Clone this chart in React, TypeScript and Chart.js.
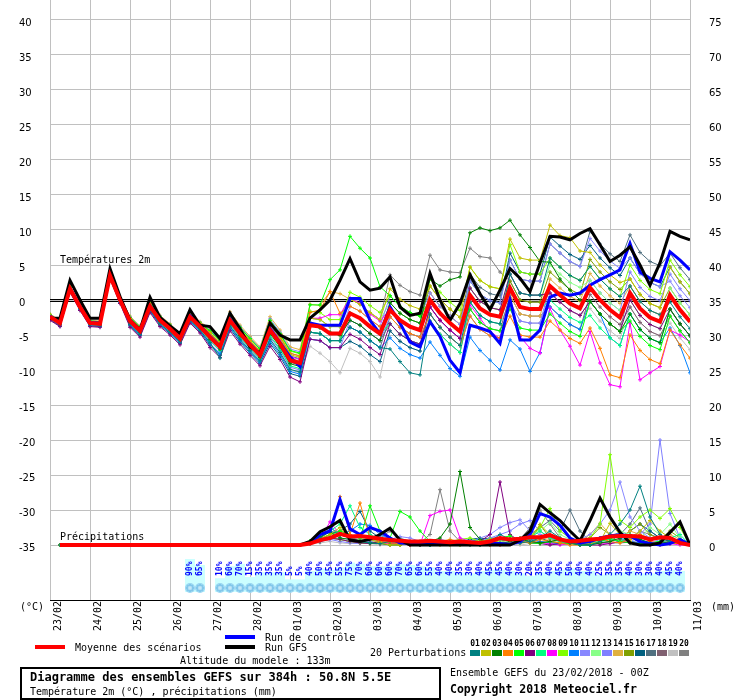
import React, { useEffect, useRef } from "react";
import { Chart, registerables } from "chart.js";
Chart.register(...registerables);

const dayLabels = ["23/02","24/02","25/02","26/02","27/02","28/02","01/03","02/03","03/03","04/03","05/03","06/03","07/03","08/03","09/03","10/03","11/03"];
const tempTicks = [-35,-30,-25,-20,-15,-10,-5,0,5,10,15,20,25,30,35,40];
const precipTicks = [0,5,10,15,20,25,30,35,40,45,50,55,60,65,70,75];

const tMean = [-2.4,-3.3,1.6,-1.0,-3.3,-3.4,3.5,0.0,-3.0,-4.4,-0.9,-2.9,-4.1,-5.5,-2.4,-3.8,-5.3,-6.7,-2.9,-4.8,-6.4,-7.9,-4.3,-6.2,-8.6,-9.0,-3.6,-3.8,-4.8,-4.8,-1.9,-2.6,-3.8,-4.8,-1.4,-2.9,-3.8,-4.3,0.0,-1.9,-3.3,-4.5,0.7,-1.2,-2.1,-2.4,1.7,-1.0,-1.3,-1.3,2.0,0.7,-0.5,-1.2,1.8,0.0,-1.4,-2.5,1.0,-1.2,-2.5,-3.1,0.7,-1.4,-3.1];
const tGfs = [-2.6,-2.6,2.8,0.0,-2.6,-2.6,4.5,0.5,-2.9,-4.3,0.4,-2.5,-3.7,-4.8,-1.4,-3.6,-3.8,-5.5,-1.9,-4.1,-6.7,-7.6,-3.3,-5.0,-5.7,-5.7,-2.6,-1.4,0.0,2.8,5.9,2.6,1.4,1.7,3.3,-1.0,-2.2,-1.9,3.8,0.0,-2.9,-0.5,3.6,0.9,-1.4,1.4,4.5,3.1,1.2,5.3,9.1,9.0,8.6,9.5,10.2,7.9,5.5,6.4,7.6,5.0,2.1,5.3,9.8,9.1,8.6];
const tCtrl = [-2.3,-3.2,1.7,-0.9,-3.2,-3.3,3.6,0.1,-2.9,-4.3,-0.8,-2.8,-4.0,-5.4,-2.2,-3.7,-5.2,-6.6,-2.7,-4.6,-6.3,-7.8,-4.1,-6.1,-8.1,-9.5,-3.3,-3.6,-3.6,-3.6,0.2,0.2,-2.9,-4.8,-1.0,-3.3,-6.0,-6.7,-3.1,-5.2,-8.6,-10.4,-3.6,-4.0,-4.5,-6.2,0.0,-5.7,-5.7,-4.3,0.4,1.0,0.7,1.0,2.1,2.9,3.6,4.3,8.1,4.0,3.1,2.6,6.9,5.7,4.3];

const t01 = [-2.6,-3.5,1.4,-1.2,-3.5,-3.6,3.3,-0.2,-3.5,-4.9,-1.4,-3.4,-4.6,-6.0,-2.9,-4.3,-6.1,-8.3,-3.7,-5.6,-7.2,-8.7,-5.6,-7.5,-9.9,-10.3,-4.6,-4.8,-5.8,-5.8,-3.9,-4.6,-5.8,-6.8,-7.0,-8.8,-10.4,-10.7,-2.0,-3.9,-5.3,-6.5,-0.3,-2.2,-3.1,-3.4,3.7,1.0,0.7,0.7,6.0,4.7,3.5,2.8,4.8,3.0,1.6,0.5,2.0,-0.2,-1.5,-2.1,-0.3,-2.4,-4.1];
const t02 = [-2.2,-3.1,1.8,-0.8,-3.1,-3.2,3.7,0.2,-2.7,-4.1,-0.6,-2.6,-3.8,-5.2,-2.1,-3.5,-4.8,-6.2,-2.4,-4.3,-5.9,-7.4,-3.5,-5.4,-7.8,-8.2,-2.6,-2.8,-3.8,-3.8,0.1,-0.6,-1.8,-2.8,1.6,0.1,-0.8,-1.3,2.0,0.1,-1.3,-2.5,4.7,2.8,1.9,1.6,8.7,6.0,5.7,5.7,10.7,9.2,8.9,7.0,6.8,5.0,3.6,2.5,3.0,0.8,-0.5,-1.1,4.7,2.6,0.9];
const t03 = [-2.5,-3.4,1.5,-1.1,-3.4,-3.5,3.4,-0.1,-3.2,-4.6,-1.1,-3.1,-4.3,-5.7,-2.6,-4.0,-5.6,-7.0,-3.2,-5.1,-6.7,-8.2,-4.8,-6.7,-9.1,-9.5,-3.2,-4.0,-4.6,-5.1,-2.9,-3.6,-4.8,-5.8,-0.4,-1.9,-2.8,-3.3,3.0,2.0,2.9,3.3,9.6,10.3,9.9,10.3,11.4,9.3,7.5,5.5,5.4,3.0,1.4,0.0,-0.2,-2.0,-3.4,-4.5,-2.0,-4.2,-5.5,-6.1,-1.3,-3.4,-5.1];
const t04 = [-2.2,-3.1,1.8,-0.8,-3.1,-3.2,3.7,0.2,-2.6,-4.0,-0.5,-2.5,-3.7,-5.1,-2.0,-3.4,-4.7,-6.1,-2.3,-4.2,-5.8,-7.3,-3.3,-5.2,-7.6,-8.0,-1.8,-1.4,1.2,-1.9,-0.9,-1.6,-2.8,-3.8,-2.4,-3.9,-4.8,-5.3,-2.0,-3.9,-5.3,-6.5,-2.3,-4.2,-5.1,-5.4,-2.3,-5.0,-5.3,-5.3,-3.0,-4.3,-5.5,-6.2,-4.0,-6.9,-10.7,-11.1,-5.0,-7.2,-8.5,-9.1,-4.3,-6.4,-8.3];
const t05 = [-2.1,-3.0,1.9,-0.7,-3.0,-3.1,3.8,0.3,-2.5,-3.9,-0.4,-2.4,-3.6,-5.0,-1.9,-3.3,-4.4,-5.8,-2.0,-3.9,-5.5,-7.0,-2.9,-4.8,-7.2,-7.6,-0.7,-0.7,2.9,4.3,9.1,7.4,6.0,1.9,0.6,-0.9,-1.8,-2.3,0.0,-1.9,-3.3,-4.5,-1.3,-3.2,-4.1,-4.4,-1.3,-4.0,-4.3,-4.3,-2.0,-3.3,-4.5,-5.2,-0.2,-2.0,-3.4,-4.5,-3.0,-5.2,-6.5,-7.1,-2.3,-4.4,-6.1];
const t06 = [-2.9,-3.8,1.1,-1.5,-3.8,-3.9,3.0,-0.5,-3.9,-5.3,-1.8,-3.8,-5.0,-6.4,-3.3,-4.7,-6.8,-8.2,-4.4,-6.3,-7.9,-9.4,-6.6,-8.5,-11.0,-11.7,-5.6,-5.8,-6.8,-6.8,-4.9,-5.6,-6.8,-7.8,-3.4,-4.9,-5.8,-6.3,-1.0,-2.9,-4.3,-5.5,1.7,-0.2,-1.1,-1.4,3.7,1.0,0.7,0.7,1.0,-0.3,-1.5,-2.2,-0.2,-2.0,-3.4,-4.5,0.0,-2.2,-3.5,-4.1,-1.3,-3.4,-5.1];
const t07 = [-2.6,-3.5,1.4,-1.2,-3.5,-3.6,3.3,-0.2,-3.3,-4.7,-1.2,-3.2,-4.4,-5.8,-2.7,-4.1,-5.8,-7.2,-3.4,-5.3,-6.9,-8.4,-5.1,-7.0,-9.4,-9.8,-4.6,-4.8,-5.8,-5.8,-1.9,-2.6,-3.8,-4.8,-3.4,-4.9,-5.8,-6.3,-3.0,-4.9,-6.3,-7.5,-0.3,-2.2,-3.1,-3.4,1.7,-1.0,-1.3,-1.3,0.0,-1.3,-2.5,-3.2,-2.2,-4.0,-5.4,-6.5,-2.0,-4.2,-5.5,-6.1,-1.3,-3.4,-5.1];
const t08 = [-2.3,-3.2,1.7,-0.9,-3.2,-3.3,3.6,0.1,-2.8,-4.2,-0.7,-2.7,-3.9,-5.3,-2.2,-3.6,-5.0,-6.4,-2.6,-4.5,-6.1,-7.6,-3.8,-5.7,-8.1,-8.5,-2.6,-2.6,-2.1,-2.1,0.3,-0.5,-2.0,-3.0,-1.4,-2.9,-3.8,-4.3,-1.0,-2.9,-4.3,-5.5,-0.7,-2.6,-4.5,-5.5,0.0,-5.2,-6.9,-7.6,-1.2,-4.3,-6.6,-9.3,-4.5,-9.0,-12.1,-12.4,-3.3,-11.4,-10.4,-9.5,-4.3,-5.0,-6.0];
const t09 = [-2.2,-3.1,1.8,-0.8,-3.1,-3.2,3.7,0.2,-2.5,-3.9,-0.4,-2.4,-3.6,-5.0,-1.9,-3.3,-4.5,-5.9,-2.1,-4.0,-5.6,-7.1,-3.0,-4.9,-7.3,-7.7,-1.6,-1.8,-2.8,-2.8,1.1,0.4,-0.8,-1.8,0.6,-0.9,-1.8,-2.3,3.0,1.1,-0.3,-1.5,4.7,2.8,1.9,1.6,7.9,4.0,3.7,3.7,6.0,4.7,3.5,2.8,4.8,3.0,1.6,0.5,5.0,2.8,1.5,0.9,5.7,3.6,1.9];
const t10 = [-2.7,-3.6,1.3,-1.3,-3.6,-3.7,3.2,-0.3,-3.6,-5.0,-1.5,-3.5,-4.7,-6.1,-3.0,-4.4,-6.3,-7.7,-3.9,-5.8,-7.4,-8.9,-5.9,-7.8,-10.2,-10.6,-4.6,-4.8,-5.8,-5.8,-3.9,-4.6,-5.8,-6.8,-5.4,-6.9,-7.8,-8.3,-6.0,-7.9,-9.8,-10.9,-5.3,-7.2,-8.6,-10.0,-5.7,-7.0,-10.2,-7.5,-1.0,-2.3,-3.5,-4.2,-0.2,-2.0,-5.4,-6.5,-2.0,-4.2,-5.5,-6.1,-4.0,-6.5,-10.4];
const t11 = [-2.1,-3.0,1.9,-0.7,-3.0,-3.1,3.8,0.3,-2.4,-3.8,-0.3,-2.3,-3.5,-4.9,-1.8,-3.2,-4.3,-5.7,-1.9,-3.8,-5.4,-6.9,-2.7,-4.6,-7.0,-7.4,-3.6,-3.8,-4.8,-4.8,-0.9,-1.6,-2.8,-3.8,0.6,-0.9,-1.8,-2.3,1.0,-0.9,-2.3,-3.5,2.7,0.8,-0.1,-0.4,5.7,3.0,2.7,2.7,8.0,6.7,5.5,4.8,8.8,7.0,5.6,4.5,6.0,3.8,2.5,1.9,2.7,0.6,-1.1];
const t12 = [-2.3,-3.2,1.7,-0.9,-3.2,-3.3,3.6,0.1,-2.9,-4.3,-0.8,-2.8,-4.0,-5.4,-2.3,-3.7,-5.1,-6.5,-2.7,-4.6,-6.2,-7.7,-4.0,-5.9,-8.3,-8.7,-2.6,-2.8,-3.8,-3.8,0.1,-0.6,-1.8,-2.8,-0.4,-1.9,-2.8,-3.3,0.0,-1.9,-3.3,-4.5,1.7,-0.2,-1.1,-1.4,3.7,1.0,0.7,0.7,5.0,3.7,2.5,1.8,2.8,1.0,-0.4,-1.5,0.0,-2.2,-3.5,-4.1,1.7,-0.4,-2.1];
const t13 = [-2.6,-3.5,1.4,-1.2,-3.5,-3.6,3.3,-0.2,-3.4,-4.8,-1.3,-3.3,-4.5,-5.9,-2.8,-4.2,-5.9,-7.3,-3.5,-5.4,-7.0,-8.5,-5.3,-7.2,-9.6,-10.0,-5.6,-5.8,-6.8,-6.8,-2.9,-3.6,-4.8,-5.8,-2.4,-3.9,-4.8,-5.3,-2.0,-3.9,-5.3,-6.5,-2.3,-4.2,-5.1,-5.4,-0.3,-3.0,-3.3,-3.3,2.0,0.7,-0.5,-1.2,2.8,1.0,-0.4,-1.5,4.0,1.8,0.5,-0.1,3.7,1.6,-0.1];
const t14 = [-2.0,-2.9,2.0,-0.6,-2.9,-3.0,3.9,0.4,-2.3,-3.7,-0.2,-2.2,-3.4,-4.8,-1.7,-3.1,-4.1,-5.5,-1.7,-3.6,-5.2,-6.7,-2.4,-4.3,-6.7,-7.1,-0.6,-0.8,1.2,0.9,0.1,-0.6,-1.8,-2.8,-1.4,-2.9,-3.8,-4.3,1.0,-0.9,-2.3,-3.5,0.7,-1.2,-2.1,-2.4,0.7,-2.0,-2.3,-2.3,3.0,1.7,0.5,-0.2,3.8,2.0,0.6,-0.5,2.0,-0.2,-1.5,-2.1,0.7,-1.4,-3.1];
const t15 = [-2.4,-3.3,1.6,-1.0,-3.3,-3.4,3.5,0.0,-2.9,-4.3,-0.8,-2.8,-4.0,-5.4,-2.3,-3.7,-5.4,-6.8,-3.0,-4.9,-6.5,-8.0,-4.1,-6.0,-8.4,-8.8,-4.6,-4.8,-5.8,-5.8,-1.9,-2.6,-3.8,-4.8,-0.4,-1.9,-2.8,-3.3,2.0,0.1,-1.3,-2.5,1.7,-0.2,-1.1,-1.4,2.7,0.0,-0.3,-0.3,4.0,2.7,1.5,0.8,5.8,4.0,2.6,1.5,3.0,0.8,-0.5,-1.1,1.7,-0.4,-2.1];
const t16 = [-2.8,-3.7,1.2,-1.4,-3.7,-3.8,3.1,-0.4,-3.7,-5.1,-1.6,-3.6,-4.8,-6.2,-3.1,-4.5,-6.5,-7.9,-4.1,-6.0,-7.6,-9.1,-6.2,-8.1,-10.5,-10.9,-5.6,-5.8,-6.8,-6.8,-5.9,-6.6,-7.8,-8.8,-4.4,-5.9,-6.8,-7.3,-1.0,-2.9,-4.3,-5.5,2.7,0.8,-0.1,-0.4,6.7,4.0,3.7,3.7,9.0,7.7,6.5,5.8,7.8,6.0,4.6,3.5,6.0,3.8,2.5,1.9,4.7,2.6,0.9];
const t17 = [-2.3,-3.2,1.7,-0.9,-3.2,-3.3,3.6,0.1,-2.8,-4.2,-0.7,-2.7,-3.9,-5.3,-2.2,-3.6,-4.9,-6.3,-2.5,-4.4,-6.0,-7.5,-3.7,-5.6,-8.0,-8.4,-4.6,-4.8,-5.8,-5.8,-3.9,-4.6,-5.8,-6.8,-2.4,-3.9,-4.8,-5.3,1.0,-0.9,-2.3,-3.5,3.7,1.8,0.9,0.6,5.7,3.0,2.7,2.7,8.0,6.7,5.5,4.8,9.8,8.0,6.6,5.5,9.3,6.8,5.5,4.9,6.7,4.6,2.9];
const t18 = [-2.5,-3.4,1.5,-1.1,-3.4,-3.5,3.4,-0.1,-3.1,-4.5,-1.0,-3.0,-4.2,-5.6,-2.5,-3.9,-5.5,-6.9,-3.1,-5.0,-6.6,-8.1,-4.6,-6.5,-8.9,-9.3,-3.6,-3.8,-4.8,-4.8,-2.9,-3.6,-4.8,-5.8,-3.4,-4.9,-5.8,-6.3,-3.0,-4.9,-6.3,-7.5,-1.3,-3.2,-4.1,-4.4,0.7,-2.0,-2.3,-2.3,-1.0,-2.3,-3.5,-4.2,0.8,-1.0,-2.4,-3.5,-1.0,-3.2,-4.5,-5.1,-2.3,-4.4,-6.1];
const t19 = [-2.7,-3.6,1.3,-1.3,-3.6,-3.7,3.2,-0.3,-3.5,-4.9,-1.4,-3.4,-4.6,-6.0,-2.9,-4.3,-6.2,-7.6,-3.8,-5.7,-7.3,-8.8,-5.7,-7.6,-10.0,-10.4,-6.6,-7.6,-8.8,-10.4,-6.9,-7.6,-8.8,-11.0,-4.4,-5.9,-6.8,-7.3,-2.0,-3.9,-5.3,-6.5,-0.3,-2.2,-3.1,-3.4,-0.3,-3.0,-3.3,-3.3,1.0,-0.3,-1.5,-2.2,-1.2,-3.0,-4.4,-5.5,-1.0,-3.2,-4.5,-5.1,-3.3,-5.4,-7.1];
const t20 = [-2.2,-3.1,1.8,-0.8,-3.1,-3.2,3.7,0.2,-2.6,-4.0,-0.5,-2.5,-3.7,-5.1,-2.0,-3.4,-4.7,-6.1,-2.3,-4.2,-5.8,-7.3,-3.3,-5.2,-7.6,-8.0,-2.6,-2.8,-3.8,-3.8,0.1,-0.6,-1.8,-2.8,3.6,2.1,1.2,0.7,6.4,4.3,4.0,3.9,7.4,6.2,6.0,4.0,2.7,0.0,-0.3,-0.3,1.0,-0.3,-1.5,-2.2,-0.2,-2.0,-3.4,-4.5,2.0,-0.2,-1.5,-2.1,-1.3,-3.4,-5.1];

// precipitation, steps 1..64
const pMean = [0,0,0,0,0,0,0,0,0,0,0,0,0,0,0,0,0,0,0,0,0,0,0,0,0,0.2,0.7,1.0,1.6,1.2,1.3,1.1,0.9,0.7,0.6,0.5,0.5,0.6,0.5,0.4,0.5,0.4,0.3,0.5,1.0,0.8,0.9,1.1,1.1,1.4,0.8,0.5,0.6,0.8,0.9,1.2,1.3,1.3,1.2,0.8,1.1,1.0,0.3,0];
const pGfs = [0,0,0,0,0,0,0,0,0,0,0,0,0,0,0,0,0,0,0,0,0,0,0,0,0,0.5,1.9,2.6,3.5,0.7,0.5,0.8,1.5,2.4,0.7,0,0,0,0,0,0,0,0,0,0,0,0.7,2.0,5.8,4.6,3.5,2.0,0.6,3.5,6.7,4.0,1.8,0.3,0,0,0.3,1.8,3.3,0];
const pCtrl = [0,0,0,0,0,0,0,0,0,0,0,0,0,0,0,0,0,0,0,0,0,0,0,0,0,0.3,1.5,2.0,6.5,2.3,1.5,2.5,2.0,1.0,0.3,0.2,0.1,0.2,0.3,0.2,0.1,0.2,0.3,0.2,0.2,0.1,0.5,1.5,4.5,4.0,2.8,1.0,0.3,0.5,1.0,1.3,1.5,1.3,0.5,0.2,0,0.2,0.8,0];
const p01 = [0,0,0,0,0,0,0,0,0,0,0,0,0,0,0,0,0,0,0,0,0,0,0,0,0,0.3,1.0,2.0,1.5,1.0,0.5,0.3,0.2,0.5,0.8,0.3,0,0,0.2,0.5,0.3,0,0,0.5,1.5,0.8,0.3,0.5,1.0,2.0,1.0,0.3,0,0,0.5,1.5,3.0,5.0,8.4,4.0,1.5,0.5,0.3,0];
const p02 = [0,0,0,0,0,0,0,0,0,0,0,0,0,0,0,0,0,0,0,0,0,0,0,0,0,0.2,0.8,1.5,2.5,1.0,0.5,0.8,0.3,0,0,0.2,0.5,0.3,0,0,0,0.2,0.5,0.8,0.3,0.2,0.5,1.0,2.9,1.5,0.8,0.5,0.3,0.2,0.5,3.1,1.5,0.5,2.0,3.5,2.0,1.0,0.5,0];
const p03 = [0,0,0,0,0,0,0,0,0,0,0,0,0,0,0,0,0,0,0,0,0,0,0,0,0,0.5,1.2,1.8,1.0,0.8,0.5,0.3,0.2,0,0,0.3,0.2,0.5,1.0,3.0,10.5,2.5,0.8,0.3,0.2,0.5,0.8,0.5,0.3,0.5,0.8,0.3,0,0,0.3,0.5,1.0,1.5,0.8,0.3,0.2,0.5,0.3,0];
const p04 = [0,0,0,0,0,0,0,0,0,0,0,0,0,0,0,0,0,0,0,0,0,0,0,0,0,0.3,1.0,2.0,6.9,1.5,6.0,1.0,0.5,0.3,0.2,0,0,0.3,0.5,0.8,0.5,0.3,0.2,0,0,0.2,0.5,0.3,0.8,0.5,0.3,0,0,0.5,1.0,0.5,0.3,0.8,1.5,0.5,0.2,0.3,0.2,0];
const p05 = [0,0,0,0,0,0,0,0,0,0,0,0,0,0,0,0,0,0,0,0,0,0,0,0,0,0.5,0.8,1.5,2.0,1.5,1.0,5.6,2.0,1.0,4.8,4.0,2.0,0.5,0.3,0.2,0,0.3,0.5,0.8,1.0,1.3,0.5,0.3,0.2,0.5,0.3,0.2,0,0,0.5,1.0,0.5,0.3,0.2,0.3,0.5,0.3,0.2,0];
const p06 = [0,0,0,0,0,0,0,0,0,0,0,0,0,0,0,0,0,0,0,0,0,0,0,0,0,0.2,0.5,1.0,0.8,0.5,0.3,0.2,0.5,0.3,0.2,0,0,0.2,0.3,0.5,0.3,0.2,0.5,1.5,9.0,1.5,0.5,0.3,0.2,0,0.2,0.3,0.2,0,0,0.2,0.5,0.3,0.2,0,0,0.2,0.3,0];
const p07 = [0,0,0,0,0,0,0,0,0,0,0,0,0,0,0,0,0,0,0,0,0,0,0,0,0,0.5,1.0,2.0,3.0,5.6,2.5,1.5,0.8,0.5,0.3,0.2,0,0,0.3,0.5,0.3,0.2,0.3,0.5,0.8,0.5,0.3,1.0,2.0,1.0,0.5,0.3,0.2,0.3,0.5,0.8,0.5,1.2,0.8,0.3,0.5,1.0,1.5,0];
const p08 = [0,0,0,0,0,0,0,0,0,0,0,0,0,0,0,0,0,0,0,0,0,0,0,0,0,0.3,0.8,3.3,1.5,1.0,0.5,0.3,0.2,0.3,0.2,0,0,4.2,4.8,5.0,1.0,0.5,0.3,0.2,0,0.2,0.3,0.5,0.3,0.2,0,0.2,0.3,0.5,0.3,0.2,0.5,0.3,0.2,0.5,0.3,0.2,0,0];
const p09 = [0,0,0,0,0,0,0,0,0,0,0,0,0,0,0,0,0,0,0,0,0,0,0,0,0,0.3,0.5,1.0,0.8,0.5,0.3,0.2,0.3,0.5,0.3,0.2,0,0,0.2,0.5,0.8,1.0,0.5,0.3,0.2,0.3,0.5,1.0,2.5,5.2,2.0,1.0,0.5,1.0,3.0,12.9,3.5,2.5,4.0,5.0,3.8,5.2,2.5,0];
const p10 = [0,0,0,0,0,0,0,0,0,0,0,0,0,0,0,0,0,0,0,0,0,0,0,0,0,0.3,1.0,2.5,1.5,2.0,3.0,2.8,1.5,0.8,0.5,0.3,0.2,0,0.2,0.3,0.2,0.5,0.8,0.5,0.3,0.2,0.5,0.8,0.5,0.3,0.2,0.3,0.5,0.8,1.0,1.5,1.0,0.5,0.3,0.2,0.5,0.3,0.2,0];
const p11 = [0,0,0,0,0,0,0,0,0,0,0,0,0,0,0,0,0,0,0,0,0,0,0,0,0,0.2,0.5,0.8,1.0,0.8,0.5,0.3,0.5,0.8,1.2,1.0,0.5,0.3,0.2,0.5,0.3,0.5,1.0,1.5,2.5,3.2,3.6,2.0,1.5,1.0,0.5,0.3,0.8,1.5,3.0,5.0,9.0,4.0,2.0,1.0,0.5,0.3,0.2,0];
const p12 = [0,0,0,0,0,0,0,0,0,0,0,0,0,0,0,0,0,0,0,0,0,0,0,0,0,0.3,0.8,1.2,0.8,0.5,0.8,1.0,0.5,0.3,0.2,0.3,0.5,0.3,0.2,0,0.2,0.3,0.5,0.8,0.5,0.3,0.8,1.5,2.0,3.2,1.5,0.8,0.5,0.3,0.5,1.0,2.0,1.5,1.0,2.5,1.5,3.0,1.0,0];
const p13 = [0,0,0,0,0,0,0,0,0,0,0,0,0,0,0,0,0,0,0,0,0,0,0,0,0,0.2,0.5,0.8,0.5,0.3,0.2,0.5,0.8,0.5,0.3,0.2,0.3,0.5,0.8,0.5,0.3,0.2,0.5,1.0,1.5,2.0,3.0,3.5,2.0,1.0,0.5,0.3,0.2,0.5,1.0,0.8,0.5,0.3,1.5,3.0,15.0,4.5,1.0,0];
const p14 = [0,0,0,0,0,0,0,0,0,0,0,0,0,0,0,0,0,0,0,0,0,0,0,0,0,0.5,1.0,1.5,2.0,1.5,1.0,0.5,0.3,0.2,0,0.2,0.3,0.2,0.5,0.3,0.2,0,0.2,0.3,0.5,0.3,0.2,0.5,1.0,0.8,0.5,0.3,0.5,1.5,3.1,1.5,1.0,2.0,1.5,1.0,0.8,1.5,0.8,0];
const p15 = [0,0,0,0,0,0,0,0,0,0,0,0,0,0,0,0,0,0,0,0,0,0,0,0,0,0.3,0.5,1.0,0.8,0.5,0.3,0.2,0.3,0.5,0.3,0.2,0,0.2,0.3,0.5,0.3,0.2,0,0.3,0.5,0.8,1.0,0.5,2.9,1.0,0.5,0.3,0.8,1.0,2.5,1.5,1.0,2.0,3.0,1.5,0.8,2.0,1.0,0];
const p16 = [0,0,0,0,0,0,0,0,0,0,0,0,0,0,0,0,0,0,0,0,0,0,0,0,0,0.3,0.8,1.5,2.0,3.0,4.8,2.0,1.0,0.5,0.3,0.2,0,0,0.2,0.3,0.5,0.8,1.0,0.8,0.5,0.8,1.0,1.5,1.0,0.5,0.3,0.2,0.3,0.5,0.8,1.5,1.0,2.0,3.0,2.0,1.0,0.5,0.3,0];
const p17 = [0,0,0,0,0,0,0,0,0,0,0,0,0,0,0,0,0,0,0,0,0,0,0,0,0,0.2,0.5,1.0,1.5,1.0,0.5,0.3,0.5,0.8,0.5,0.3,0.2,0.3,0.5,0.3,0.2,0.5,0.8,1.0,1.0,0.8,0.5,1.5,2.5,3.5,2.0,5.0,2.0,0.5,0.3,0.5,1.5,3.0,5.3,2.0,1.0,0.5,0.3,0];
const p18 = [0,0,0,0,0,0,0,0,0,0,0,0,0,0,0,0,0,0,0,0,0,0,0,0,0,0.2,0.5,1.0,1.8,1.2,0.5,0.3,0.2,0.3,0.5,0.3,0.2,0,0.2,0.3,0.5,0.3,0.2,0,0.2,0.3,0.5,0.8,0.5,0.3,0.2,0.3,0.5,0.3,0.2,0.5,0.8,0.5,0.3,0.2,0.3,0.5,0.2,0];
const p19 = [0,0,0,0,0,0,0,0,0,0,0,0,0,0,0,0,0,0,0,0,0,0,0,0,0,0.2,0.3,0.5,0.3,0.2,0.3,0.2,0,0,0.2,0.3,0.2,0,0,0.2,0.3,0.2,0,0.2,0.3,0.2,0,0.2,0.5,0.3,0.2,0,0.2,0.3,0.5,0.3,0.2,0.5,0.3,0.2,0.5,0.3,0.2,0];
const p20 = [0,0,0,0,0,0,0,0,0,0,0,0,0,0,0,0,0,0,0,0,0,0,0,0,0,0.5,1.5,2.5,1.5,1.0,0.8,0.5,1.0,2.0,1.0,0.5,0.3,1.5,7.9,2.0,0.5,0.3,0.2,0.3,0.5,0.3,0.8,2.5,5.0,3.0,1.0,0.5,0.3,0.5,1.0,0.8,0.5,1.0,2.0,1.5,1.0,0.5,0.3,0];

// snow probability (%) per step, null = no label
const snowPct = [null,null,null,null,null,null,null,null,null,null,null,null,null,null,90,65,null,10,60,70,15,35,35,35,5,5,40,50,45,55,75,70,60,60,60,70,65,60,55,40,40,35,30,40,45,45,40,30,20,35,40,45,50,40,40,25,35,35,40,30,30,40,45,40,null];

const memberColors = ["#008080","#c0c000","#008000","#ff8000","#00ff00","#800080","#00ff80","#ff00ff","#80ff00","#0080ff","#8888ff","#88ff88","#7f7fff","#e0b040","#80a000","#006080","#507080","#806070","#c0c0c0","#808080"];
const memberNames = ["01","02","03","04","05","06","07","08","09","10","11","12","13","14","15","16","17","18","19","20"];
const memberTemps = [t01,t02,t03,t04,t05,t06,t07,t08,t09,t10,t11,t12,t13,t14,t15,t16,t17,t18,t19,t20];
const memberPrecips = [p01,p02,p03,p04,p05,p06,p07,p08,p09,p10,p11,p12,p13,p14,p15,p16,p17,p18,p19,p20];

const MONO = "'DejaVu Sans Mono', monospace";
const SPAN = 300 / 7;

function pts(arr: number[], start: number) {
  return arr.map((v, k) => ({ x: k + start, y: v }));
}

const decor = {
  id: "decor",
  beforeDatasetsDraw(chart: any) {
    const { ctx } = chart;
    const x = chart.scales.x;
    const y = chart.scales.y;
    ctx.save();
    const y0 = Math.round(y.getPixelForValue(0));
    ctx.strokeStyle = "#000";
    ctx.lineWidth = 1;
    ctx.beginPath();
    ctx.moveTo(x.left, y0 - 0.5); ctx.lineTo(x.right, y0 - 0.5);
    ctx.moveTo(x.left, y0 + 1.5); ctx.lineTo(x.right, y0 + 1.5);
    ctx.stroke();

    ctx.fillStyle = "#000";
    ctx.font = "10px " + MONO;
    ctx.textAlign = "left";
    ctx.textBaseline = "alphabetic";
    ctx.fillText("Températures 2m", x.left + 10, y0 - 37);
    const base = y.getPixelForValue(-35);
    ctx.fillText("Précipitations", x.left + 10, base - 5);

    // snow strip
    snowPct.forEach((p, i) => {
      if (p == null) return;
      const px = x.getPixelForValue(i);
      const top = base + 35.6 - 0.24 * p;
      ctx.fillStyle = "#ccffff";
      ctx.fillRect(px - 5, top, 10, base + 47 - top);
    });
    snowPct.forEach((p, i) => {
      if (p == null) return;
      const px = Math.round(x.getPixelForValue(i));
      const fy = Math.round(base + 43);
      ctx.fillStyle = "#9ad6f2";
      ctx.beginPath();
      ctx.arc(px, fy, 5, 0, Math.PI * 2);
      ctx.fill();
      ctx.fillStyle = "#3f9fd8";
      [[-3,0],[3,0],[0,-3],[0,3],[-2,-2],[2,2],[-2,2],[2,-2]].forEach(([dx, dy]) => ctx.fillRect(px + dx - 0.5, fy + dy - 0.5, 1, 1));
      ctx.fillStyle = "#ffffff";
      [[0,0],[-1,-1],[1,1],[-1,1],[1,-1]].forEach(([dx, dy]) => ctx.fillRect(px + dx - 0.5, fy + dy - 0.5, 1, 1));
    });
    ctx.fillStyle = "#0000ff";
    ctx.font = "bold 8px " + MONO;
    snowPct.forEach((p, i) => {
      if (p == null) return;
      const px = x.getPixelForValue(i);
      ctx.save();
      ctx.translate(px - 0.5, base + 31);
      ctx.rotate(-Math.PI / 2);
      ctx.textAlign = "left";
      ctx.textBaseline = "middle";
      ctx.fillText(p + "%", 0, 0);
      ctx.restore();
    });
    ctx.restore();
  },
  afterDraw(chart: any) {
    const { ctx } = chart;
    const x = chart.scales.x;
    ctx.save();
    ctx.fillStyle = "#000";
    ctx.font = "10px " + MONO;
    dayLabels.forEach((lab, d) => {
      const px = x.getPixelForValue(d * 4);
      ctx.save();
      ctx.translate(px + 8, 631);
      ctx.rotate(-Math.PI / 2);
      ctx.textAlign = "left";
      ctx.textBaseline = "middle";
      ctx.fillText(lab, 0, 0);
      ctx.restore();
    });
    ctx.textAlign = "left";
    ctx.textBaseline = "alphabetic";
    ctx.fillText("(°C)", 20, 610);
    ctx.fillText("(mm)", 711, 610);

    // legend
    ctx.fillStyle = "#ff0000";
    ctx.fillRect(35, 645, 30, 4);
    ctx.fillStyle = "#0000ff";
    ctx.fillRect(225, 635, 30, 4);
    ctx.fillStyle = "#000000";
    ctx.fillRect(225, 645, 30, 4);
    ctx.fillText("Moyenne des scénarios", 75, 651);
    ctx.fillText("Run de contrôle", 265, 641);
    ctx.fillText("Run GFS", 265, 651);
    ctx.fillText("Altitude du modele : 133m", 180, 664);
    ctx.fillText("20 Perturbations", 370, 656);
    ctx.fillText("Ensemble GEFS du 23/02/2018 - 00Z", 450, 676);

    ctx.font = "bold 8px " + MONO;
    ctx.textAlign = "center";
    memberColors.forEach((c, k) => {
      const sx = 470 + k * 11;
      ctx.fillStyle = c;
      ctx.fillRect(sx, 650, 10, 6);
      ctx.fillStyle = "#000";
      ctx.fillText(memberNames[k], sx + 5, 646);
    });

    ctx.textAlign = "left";
    ctx.strokeStyle = "#000";
    ctx.lineWidth = 2;
    ctx.strokeRect(21, 668, 419, 31);
    ctx.fillStyle = "#000";
    ctx.font = "bold 12px " + MONO;
    ctx.fillText("Diagramme des ensembles GEFS sur 384h : 50.8N 5.5E", 30, 681);
    ctx.font = "10px " + MONO;
    ctx.fillText("Température 2m (°C) , précipitations (mm)", 30, 695);
    ctx.font = "bold 11.5px " + MONO;
    ctx.fillText("Copyright 2018 Meteociel.fr", 450, 693);
    ctx.restore();
  },
};

export default function App() {
  const ref = useRef<HTMLCanvasElement>(null);
  useEffect(() => {
    document.body.style.margin = "0";
    const canvas = ref.current;
    if (!canvas) return;
    const datasets: any[] = [];
    memberTemps.forEach((t, k) => {
      datasets.push({
        data: pts(t, 0), yAxisID: "y", borderColor: memberColors[k], backgroundColor: memberColors[k],
        borderWidth: 1, pointStyle: "cross", pointRadius: 2, pointBorderWidth: 1, pointBorderColor: memberColors[k], order: 3,
      });
    });
    memberPrecips.forEach((p, k) => {
      datasets.push({
        data: pts(p, 1), yAxisID: "y2", borderColor: memberColors[k], backgroundColor: memberColors[k],
        borderWidth: 1, pointStyle: "cross", pointRadius: 2, pointBorderWidth: 1, pointBorderColor: memberColors[k], order: 3,
      });
    });
    datasets.push({ data: pts(tCtrl, 0), yAxisID: "y", borderColor: "#0000ff", borderWidth: 3, pointRadius: 0, order: 2 });
    datasets.push({ data: pts(pCtrl, 1), yAxisID: "y2", borderColor: "#0000ff", borderWidth: 3, pointRadius: 0, order: 2 });
    datasets.push({ data: pts(tGfs, 0), yAxisID: "y", borderColor: "#000000", borderWidth: 3, pointRadius: 0, order: 1 });
    datasets.push({ data: pts(pGfs, 1), yAxisID: "y2", borderColor: "#000000", borderWidth: 3, pointRadius: 0, order: 1 });
    datasets.push({ data: pts(tMean, 0), yAxisID: "y", borderColor: "#ff0000", borderWidth: 4, pointRadius: 0, order: 0 });
    datasets.push({ data: pts(pMean, 1), yAxisID: "y2", borderColor: "#ff0000", borderWidth: 4, pointRadius: 0, order: 0 });

    const chart = new Chart(canvas, {
      type: "line",
      data: { datasets },
      options: {
        animation: false,
        responsive: false,
        events: [],
        layout: { padding: { left: 19, right: 0, top: 0, bottom: 0 }, autoPadding: false },
        elements: { line: { tension: 0 } },
        plugins: { legend: { display: false }, tooltip: { enabled: false } },
        scales: {
          x: {
            type: "linear", min: 0, max: 64,
            afterBuildTicks: (s: any) => { s.ticks = dayLabels.map((_, d) => ({ value: d * 4 })); },
            ticks: { display: false },
            grid: { color: "#c0c0c0", lineWidth: 1, drawTicks: false },
            border: { display: true, color: "#000", width: 1 },
            afterFit: (s: any) => { s.height = 100; s.paddingLeft = 0; s.paddingRight = 0; },
          },
          y: {
            position: "left", min: -SPAN, max: SPAN,
            afterBuildTicks: (s: any) => { s.ticks = tempTicks.map((v) => ({ value: v })); },
            ticks: { crossAlign: "far", autoSkip: false, padding: 0, labelOffset: 3, color: "#000", font: { family: "DejaVu Sans", size: 10 }, callback: (v: any) => String(v) },
            grid: { color: "#c0c0c0", lineWidth: 1, drawTicks: false },
            border: { display: false },
            afterFit: (s: any) => { s.width = 31; s.paddingTop = 0; s.paddingBottom = 0; },
          },
          y2: {
            position: "right", min: 35 - SPAN, max: 35 + SPAN,
            afterBuildTicks: (s: any) => { s.ticks = precipTicks.map((v) => ({ value: v })); },
            ticks: { crossAlign: "near", autoSkip: false, padding: 19, labelOffset: 3, color: "#000", font: { family: "DejaVu Sans", size: 10 }, callback: (v: any) => String(v) },
            grid: { display: false, drawTicks: false },
            border: { display: false },
            afterFit: (s: any) => { s.width = 50; s.paddingTop = 0; s.paddingBottom = 0; },
          },
        },
      } as any,
      plugins: [decor],
    });
    return () => chart.destroy();
  }, []);
  return <canvas ref={ref} width={740} height={700} style={{ display: "block" }} />;
}
